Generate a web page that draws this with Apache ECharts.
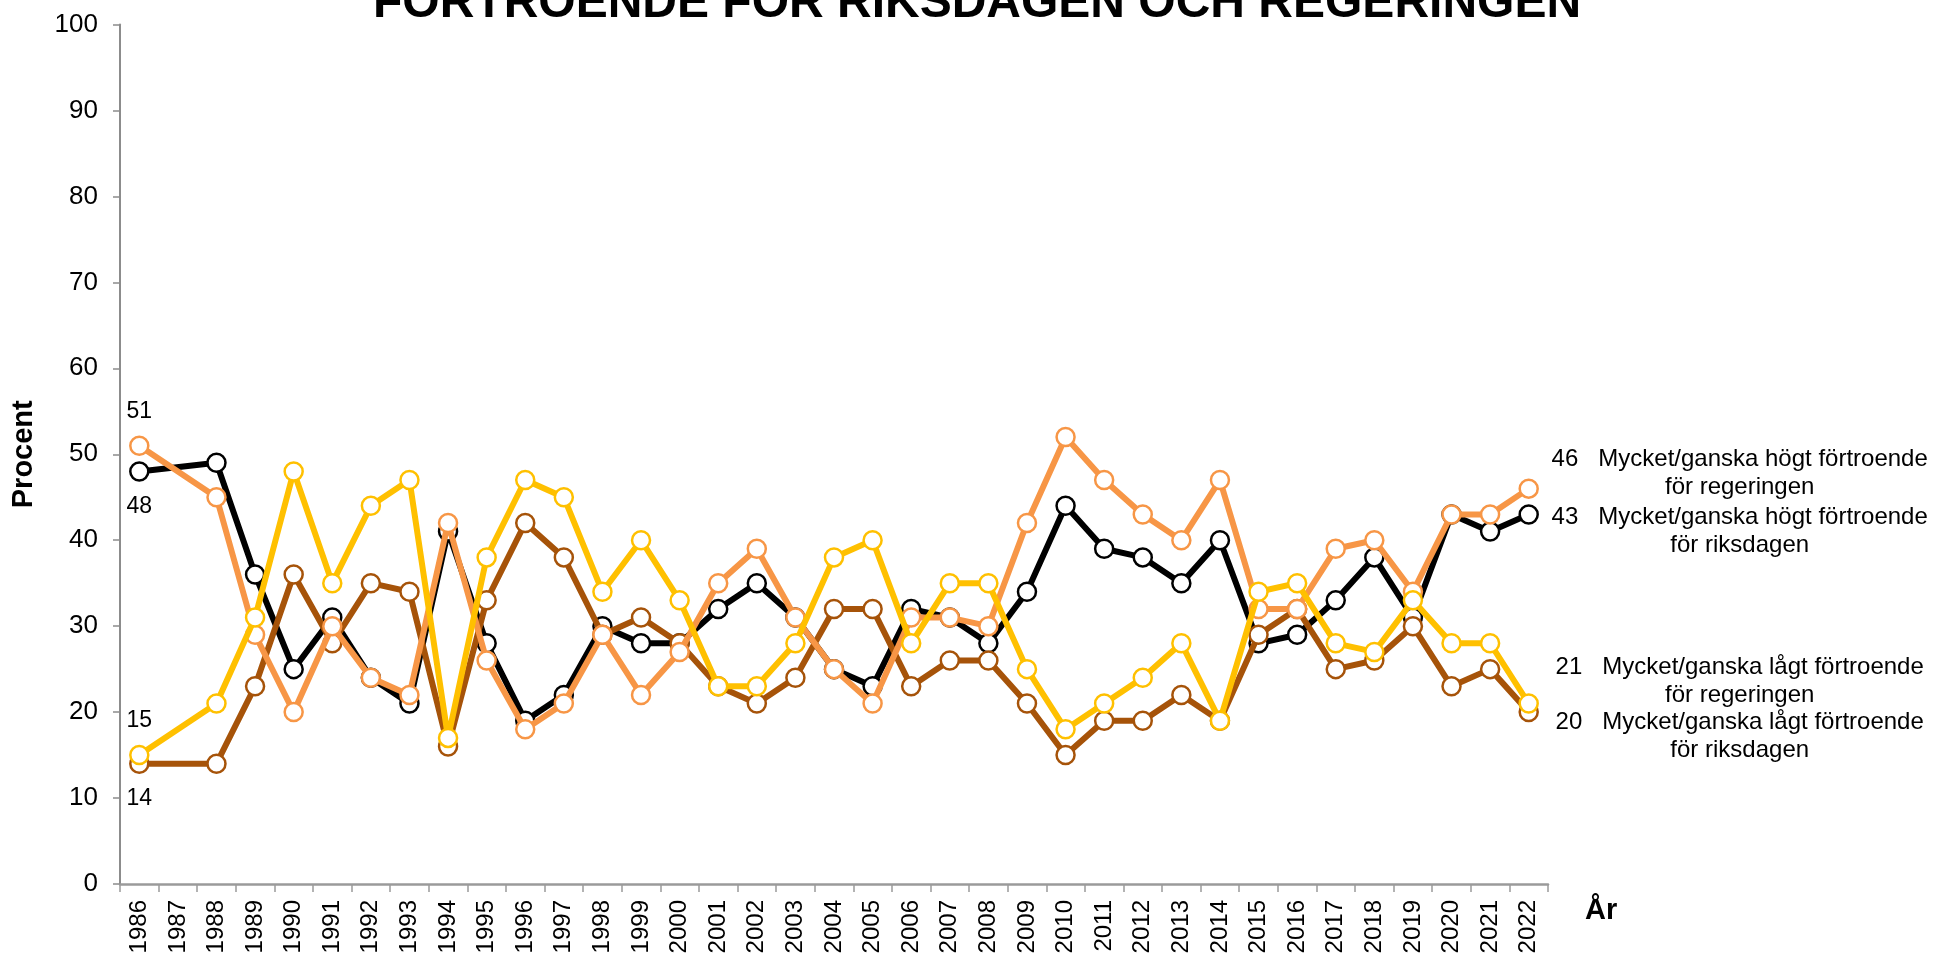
<!DOCTYPE html>
<html>
<head>
<meta charset="utf-8">
<script src="https://cdn.jsdelivr.net/npm/echarts@6/dist/echarts.min.js"></script>
<style>
html,body{margin:0;padding:0;background:#fff;}
#chart{width:1934px;height:958px;}
</style>
</head>
<body>
<div id="chart"></div>
<script>
const years = ['1986','1987','1988','1989','1990','1991','1992','1993','1994','1995','1996','1997','1998','1999','2000','2001','2002','2003','2004','2005','2006','2007','2008','2009','2010','2011','2012','2013','2014','2015','2016','2017','2018','2019','2020','2021','2022'];

const hogtRiksdagen = [48,null,49,36,25,31,24,21,41,28,19,22,30,28,28,32,35,31,25,23,32,31,28,34,44,39,38,35,40,28,29,33,38,31,43,41,43];
const lagtRiksdagen = [14,null,14,23,36,28,35,34,16,33,42,38,29,31,28,23,21,24,32,32,23,26,26,21,15,19,19,22,19,29,32,25,26,30,23,25,20];
const hogtRegeringen = [51,null,45,29,20,30,24,22,42,26,18,21,29,22,27,35,39,31,25,21,31,31,30,42,52,47,43,40,47,32,32,39,40,34,43,43,46];
const lagtRegeringen = [15,null,21,31,48,35,44,47,17,38,47,45,34,40,33,23,23,28,38,40,28,35,35,25,18,21,24,28,19,34,35,28,27,33,28,28,21];

const seriesNames = [
  'Mycket/ganska högt förtroende\nför riksdagen',
  'Mycket/ganska lågt förtroende\nför riksdagen',
  'Mycket/ganska högt förtroende\nför regeringen',
  'Mycket/ganska lågt förtroende\nför regeringen'
];
const yTicks = [0,10,20,30,40,50,60,70,80,90,100];

const colors = ['#000000', '#A65309', '#F79646', '#FFC000'];
const values = [hogtRiksdagen, lagtRiksdagen, hogtRegeringen, lagtRegeringen];
const firstOffsets = [35, 35, -34, -34];
const endOffsets = [17, 24.5, -15, -22];

const FONT = '"Liberation Sans", Arial, sans-serif';

function buildData(arr, idx) {
  const last = arr.length - 1;
  return arr.map((v, i) => {
    if (i === 0) {
      return {
        value: v,
        label: {
          show: true, position: 'inside', offset: [0, firstOffsets[idx]],
          align: 'center', verticalAlign: 'middle',
          fontSize: 23, fontFamily: FONT, color: '#000',
          formatter: '{c}'
        }
      };
    }
    if (i === last) {
      return {
        value: v,
        label: {
          show: true, position: 'inside', offset: [211, endOffsets[idx]],
          align: 'center', verticalAlign: 'middle',
          fontSize: 24, lineHeight: 28, fontFamily: FONT, color: '#000',
          formatter: function (p) {
            const parts = seriesNames[idx].split('\n');
            return p.value + '   ' + parts[0] + '\n' + parts[1];
          }
        }
      };
    }
    return v;
  });
}

const series = values.map((arr, idx) => ({
  type: 'line',
  name: seriesNames[idx],
  data: buildData(arr, idx),
  connectNulls: true,
  showAllSymbol: true,
  symbol: 'circle',
  symbolSize: 18,
  lineStyle: { color: colors[idx], width: 6 },
  itemStyle: { color: '#ffffff', borderColor: colors[idx], borderWidth: 2.5 },
  emphasis: { disabled: true },
  label: { show: false },
  z: 2 + idx
}));

const chart = echarts.init(document.getElementById('chart'), null, { renderer: 'canvas' });
chart.setOption({
  animation: false,
  backgroundColor: '#ffffff',
  textStyle: { fontFamily: FONT },
  title: [{
    text: 'FÖRTROENDE FÖR RIKSDAGEN OCH REGERINGEN',
    left: 373,
    top: -20,
    padding: 0,
    textStyle: { fontSize: 48, fontWeight: 'bold', fontFamily: FONT, color: '#000' }
  }, {
    text: 'År',
    left: 1585,
    top: 896,
    padding: 0,
    textStyle: { fontSize: 29, fontWeight: 'bold', fontFamily: FONT, color: '#000' }
  }],
  grid: { left: 120, right: 386, top: 24.5, bottom: 74, containLabel: false },
  xAxis: {
    type: 'category',
    data: years,
    boundaryGap: true,
    axisLine: { lineStyle: { color: '#9a9a9a', width: 2.5 } },
    axisTick: { show: true, interval: 0, alignWithLabel: false, length: 8, lineStyle: { color: '#9a9a9a', width: 1.5 } },
    axisLabel: { interval: 0, rotate: 90, fontSize: 24, margin: 16, color: '#000', fontFamily: FONT },
    splitLine: { show: false }
  },
  yAxis: {
    type: 'value',
    min: yTicks[0],
    max: yTicks[yTicks.length - 1],
    interval: yTicks[1] - yTicks[0],
    name: 'Procent',
    nameLocation: 'middle',
    nameRotate: 90,
    nameGap: 82,
    nameTextStyle: { fontSize: 29, fontWeight: 'bold', fontFamily: FONT, color: '#000' },
    axisLine: { show: true, lineStyle: { color: '#8c8c8c', width: 2 } },
    axisTick: { show: true, length: 7, lineStyle: { color: '#8c8c8c', width: 1.5 } },
    axisLabel: { fontSize: 26, margin: 22, color: '#000', fontFamily: FONT },
    splitLine: { show: false }
  },
  series: series
});
</script>
</body>
</html>
